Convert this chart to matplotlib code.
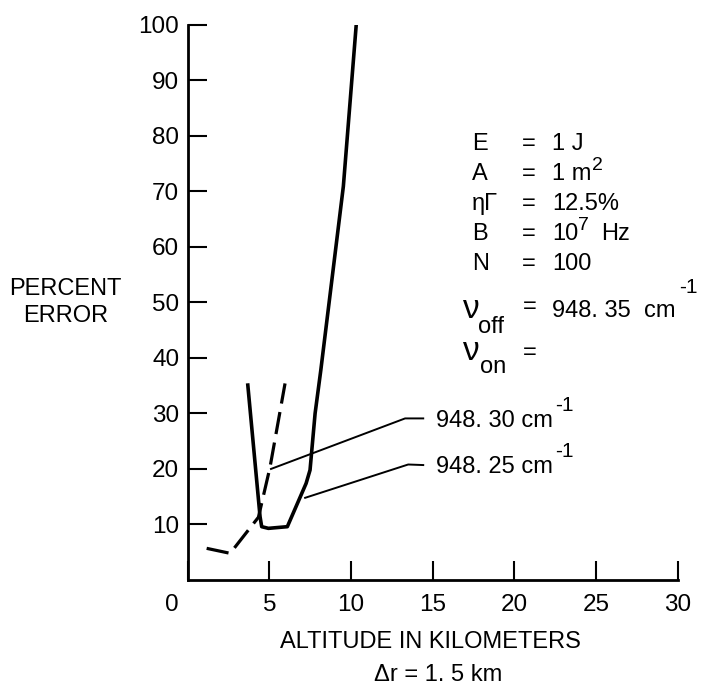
import matplotlib
matplotlib.use("Agg")
import matplotlib.pyplot as plt
from matplotlib.transforms import ScaledTranslation

plt.rcParams['font.family'] = ['Liberation Sans', 'DejaVu Sans']

# 948.25 cm-1 (solid)
alt_25 = [3.68, 4.43, 4.53, 4.94, 6.10, 7.25, 7.49, 7.80, 8.15, 9.53, 10.31]
err_25 = [35.1, 11.4, 9.6, 9.3, 9.6, 17.4, 19.8, 30.0, 37.8, 70.9, 99.7]

# 948.30 cm-1 (dashed)
alt_30 = [1.16, 2.6, 4.33, 5.04, 5.96]
err_30 = [5.7, 4.8, 11.3, 20.3, 35.4]

xticks = [0, 5, 10, 15, 20, 25, 30]
yticks = [10, 20, 30, 40, 50, 60, 70, 80, 90, 100]

fig = plt.figure(figsize=(7.03, 6.88), dpi=100)
ax = fig.add_axes([0.267, 0.157, 0.697, 0.807])

ax.plot(alt_25, err_25, color='black', lw=2.6, solid_joinstyle='round')
ax.plot(alt_30, err_30, color='black', lw=2.3, dashes=(7, 2.7))

# leader lines to the curve labels
ax.plot([5.10, 13.31, 14.42], [20.0, 29.1, 29.1], color='black', lw=1.4)
ax.plot([7.19, 13.5, 14.42], [14.8, 20.8, 20.7], color='black', lw=1.4)

ax.set_xlim(0, 30)
ax.set_ylim(0, 100)
for s in ['top', 'right']:
    ax.spines[s].set_visible(False)
for s in ['left', 'bottom']:
    ax.spines[s].set_linewidth(2)

ax.set_xticks(xticks)
ax.set_xticklabels([str(t) for t in xticks])
ax.set_yticks(yticks)
ax.set_yticklabels([str(t) for t in yticks])
ax.tick_params(axis='both', direction='in', length=14, width=1.5, labelsize=17.5)
ax.tick_params(axis='y', pad=6)
ax.tick_params(axis='x', pad=10)

lbl0 = ax.get_xticklabels()[0]
lbl0.set_transform(lbl0.get_transform() + ScaledTranslation(-0.16, 0, fig.dpi_scale_trans))

# parameter block
names = ['E', 'A', 'ηΓ', 'B', 'N']
values = ['1 J', '1 m', '12.5%', '10', '100']
rows_y = [77.5, 72.1, 66.7, 61.3, 55.9]
for n, v, y in zip(names, values, rows_y):
    ax.text(17.42, y, n, fontsize=17, va='baseline')
    ax.text(20.48, y, '=', fontsize=17, va='baseline')
    ax.text(22.32, y, v, fontsize=17, va='baseline')
ax.text(24.75, rows_y[1] + 1.7, '2', fontsize=14, va='baseline')
ax.text(23.9, rows_y[3] + 1.8, '7', fontsize=14, va='baseline')
ax.text(25.3, rows_y[3], 'Hz', fontsize=17, va='baseline')

ax.text(16.87, 47.2, 'ν', fontsize=24, va='baseline')
ax.text(17.79, 44.5, 'off', fontsize=17, va='baseline')
ax.text(20.5, 48.1, '=', fontsize=17, va='baseline')
ax.text(22.32, 47.4, '948. 35  cm', fontsize=17, va='baseline')
ax.text(30.1, 51.7, '-1', fontsize=15, va='baseline')

ax.text(16.87, 39.6, 'ν', fontsize=24, va='baseline')
ax.text(17.91, 37.3, 'on', fontsize=17, va='baseline')
ax.text(20.5, 39.8, '=', fontsize=17, va='baseline')

ax.text(15.21, 27.6, '948. 30 cm', fontsize=17, va='baseline')
ax.text(22.5, 30.5, '-1', fontsize=15, va='baseline')
ax.text(15.21, 19.3, '948. 25 cm', fontsize=17, va='baseline')
ax.text(22.5, 22.2, '-1', fontsize=15, va='baseline')

fig.text(0.093, 0.56, 'PERCENT\nERROR', fontsize=17, ha='center', va='center',
         multialignment='center', linespacing=1.3)
fig.text(0.612, 0.058, 'ALTITUDE IN KILOMETERS', fontsize=17, ha='center', va='baseline')
fig.text(0.623, 0.0102, 'Δr = 1. 5 km', fontsize=17, ha='center', va='baseline')

fig.savefig('out.png', dpi=100)
